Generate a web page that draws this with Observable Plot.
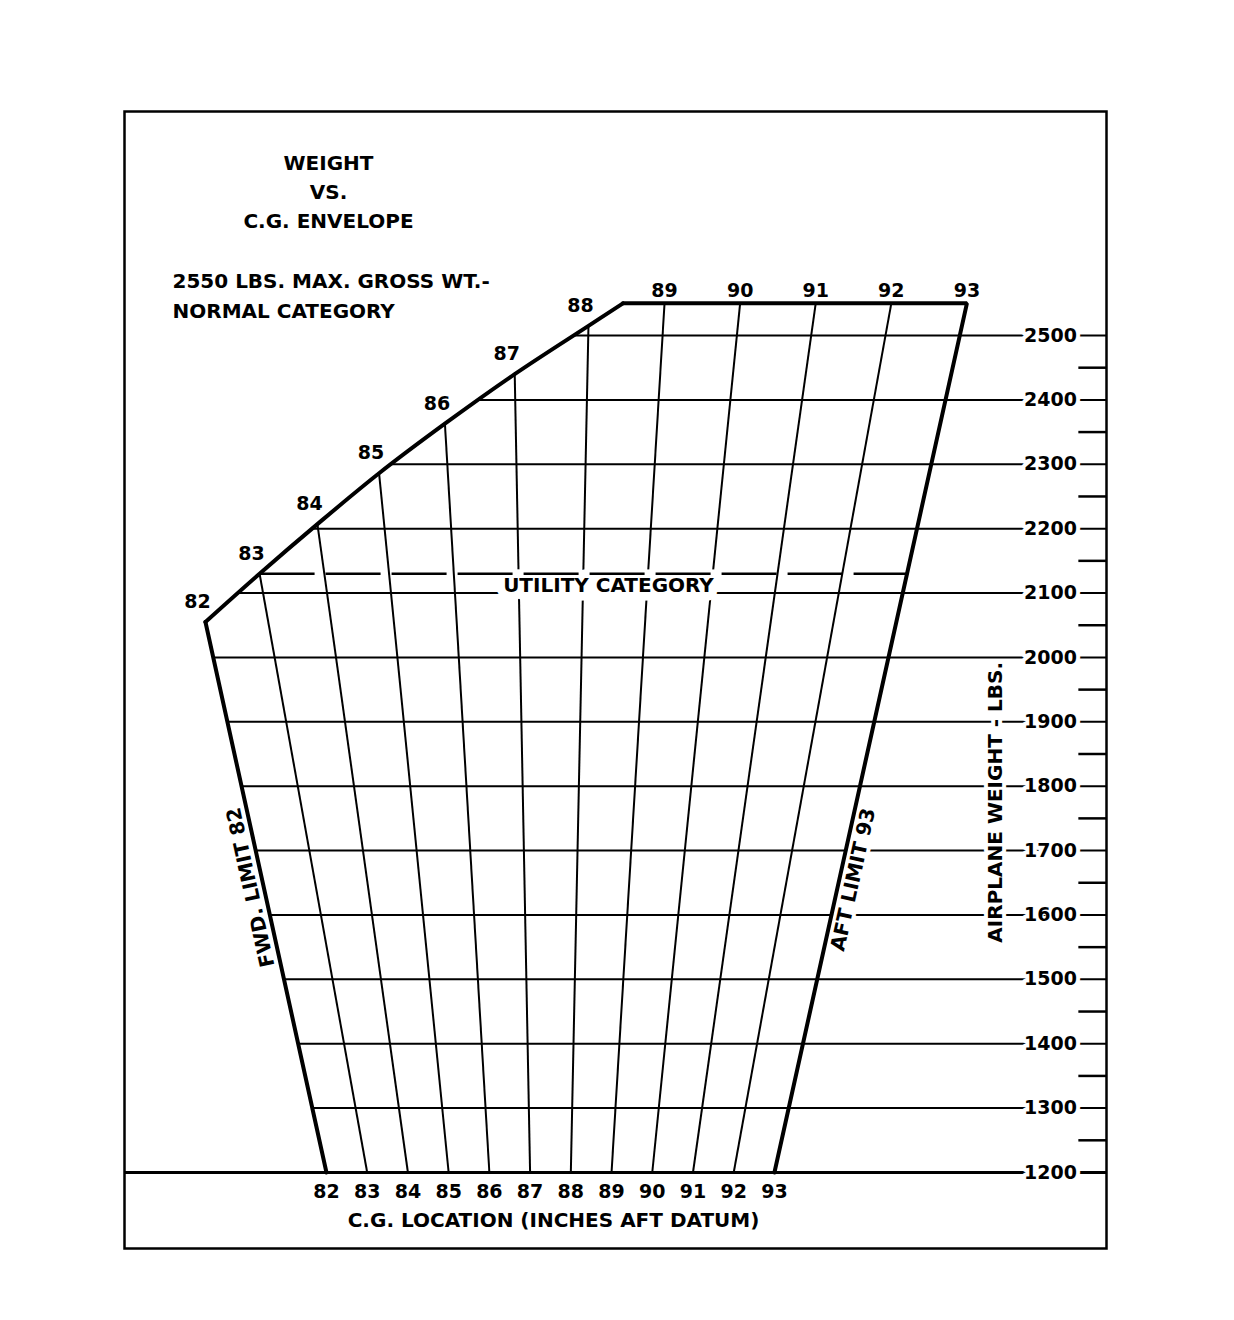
<!DOCTYPE html>
<html>
<head>
<meta charset="utf-8">
<script src="https://cdn.jsdelivr.net/npm/d3@7"></script>
<script src="https://cdn.jsdelivr.net/npm/@observablehq/plot@0.6"></script>
<style>
  html, body { margin: 0; padding: 0; background: #fff; overflow: hidden; }
  #chart { position: absolute; left: 0; top: 0; }
</style>
</head>
<body>
<div id="chart"></div>
<script>
// ---------------- data ----------------
const cgValues = [82, 83, 84, 85, 86, 87, 88, 89, 90, 91, 92, 93];       // C.G. lines (inches aft datum)
const weightTicks = [1200, 1300, 1400, 1500, 1600, 1700, 1800, 1900, 2000, 2100, 2200, 2300, 2400, 2500];
const minorTicks = [1250, 1350, 1450, 1550, 1650, 1750, 1850, 1950, 2050, 2150, 2250, 2350, 2450];
// forward limit curve (C.G. vs weight) above 2050 lbs
const fwdLimitCG = [82, 83, 84, 85, 86, 87, 88, 88.45];
const fwdLimitWt = [2055, 2130, 2207, 2286, 2363, 2440, 2515, 2550];
const fwdLimitLow = 82;     // straight forward limit
const aftLimit = 93;        // aft limit
const minWeight = 1200;
const maxWeight = 2550;     // max gross weight
const utilityWeight = 2130; // utility category max weight

const titleLines = ["WEIGHT", "VS.", "C.G. ENVELOPE"];
const subtitleLines = ["2550 LBS. MAX. GROSS WT.-", "NORMAL CATEGORY"];
const xLabel = "C.G. LOCATION (INCHES AFT DATUM)";
const yLabel = "AIRPLANE WEIGHT - LBS.";
const fwdLabel = "FWD. LIMIT 82";
const aftLabel = "AFT LIMIT 93";
const utilityLabel = "UTILITY CATEGORY";

// ---------------- chart geometry ----------------
// The C.G. lines of this chart fan out from a common point: the horizontal
// coordinate is a moment-like product (C.G. - ref) x (weight - ref).
const CG_REF = 87.48, WT_REF = -376.7;
const M = (cg, w) => (cg - CG_REF) * (w - WT_REF) / 1000;
const X_DOMAIN = [-16.46, 21.56];
const M_TICK = 20.47;

function fwdCGAt(w) {
  if (w <= fwdLimitWt[0]) return fwdLimitLow;
  for (let i = 1; i < fwdLimitWt.length; i++) {
    if (w <= fwdLimitWt[i]) {
      const t = (w - fwdLimitWt[i - 1]) / (fwdLimitWt[i] - fwdLimitWt[i - 1]);
      return fwdLimitCG[i - 1] + t * (fwdLimitCG[i] - fwdLimitCG[i - 1]);
    }
  }
  return fwdLimitCG[fwdLimitCG.length - 1];
}

const gridRows = weightTicks.filter(w => w > minWeight)
  .map(w => ({x1: M(fwdCGAt(w), w), x2: X_DOMAIN[1], w}));
const baseRow = [{x1: X_DOMAIN[0], x2: X_DOMAIN[1], w: minWeight}];
const cgLineRows = cgValues.filter(c => c > fwdLimitLow && c < aftLimit).map(c => {
  const i = fwdLimitCG.indexOf(c);
  const top = i >= 0 ? fwdLimitWt[i] : maxWeight;
  return {x1: M(c, minWeight), y1: minWeight, x2: M(c, top), y2: top};
});
const minorRows = minorTicks.map(w => ({x1: M_TICK, x2: X_DOMAIN[1], w}));

const fwdStraight = [{cg: fwdLimitLow, w: minWeight}, {cg: fwdLimitLow, w: fwdLimitWt[0]}];
const fwdCurve = fwdLimitCG.map((c, i) => ({cg: c, w: fwdLimitWt[i]}));
const topAft = [{cg: fwdLimitCG[fwdLimitCG.length - 1], w: maxWeight}, {cg: aftLimit, w: maxWeight}, {cg: aftLimit, w: minWeight}];
const utilityRow = [{x1: M(fwdCGAt(utilityWeight), utilityWeight), x2: M(aftLimit, utilityWeight), w: utilityWeight}];

const curveLabels = fwdCurve.filter(d => Number.isInteger(d.cg));
const topLabels = cgValues.filter(c => c > 88).map(c => ({cg: c, w: maxWeight}));
const bottomLabels = cgValues.map(c => ({cg: c, w: minWeight}));

const FONT = "DejaVu Sans";
const bold = {fontFamily: FONT, fontWeight: "bold", fill: "black", lineAnchor: "middle"};
const halo = {stroke: "white", strokeWidth: 8, paintOrder: "stroke", strokeLinejoin: "round"};

const chart = Plot.plot({
  width: 1234,
  height: 1320,
  marginLeft: 124, marginRight: 128, marginTop: 111, marginBottom: 72,
  x: {type: "linear", domain: X_DOMAIN, range: [124, 1106], axis: null},
  y: {type: "linear", domain: [1200, 2500], range: [1172, 335], axis: null},
  marks: [
    // weight grid lines
    Plot.link(gridRows, {x1: "x1", x2: "x2", y1: "w", y2: "w", stroke: "black", strokeWidth: 2}),
    Plot.link(baseRow, {x1: "x1", x2: "x2", y1: "w", y2: "w", stroke: "black", strokeWidth: 3}),
    // C.G. lines
    Plot.link(cgLineRows, {x1: "x1", y1: "y1", x2: "x2", y2: "y2", stroke: "black", strokeWidth: 2}),
    // minor ticks on right edge
    Plot.link(minorRows, {x1: "x1", x2: "x2", y1: "w", y2: "w", stroke: "black", strokeWidth: 2.5}),
    // weight labels
    Plot.text(weightTicks, {y: d => d, text: d => String(d), frameAnchor: "right", dx: -56, textAnchor: "middle",
      fontSize: 19, ...bold, ...halo}),
    // axis title
    Plot.text([yLabel], {y: () => 1775, text: d => d, frameAnchor: "right", dx: -111, rotate: -90,
      textAnchor: "middle", fontSize: 20, ...bold, ...halo}),
    // utility category label
    Plot.text([utilityLabel], {x: () => M(88.4, 2100), y: () => 2100, text: d => d, dy: -7,
      textAnchor: "middle", fontSize: 20, ...bold, ...halo, strokeWidth: 17}),
    // limit labels
    Plot.text([aftLabel], {x: () => M(aftLimit, 1655), y: () => 1655, text: d => d, dx: 14, rotate: -77.5,
      textAnchor: "middle", fontSize: 20, ...bold, ...halo}),
    Plot.text([fwdLabel], {x: () => M(fwdLimitLow, 1643), y: () => 1643, text: d => d, dx: -13, rotate: -102.4,
      textAnchor: "middle", fontSize: 20, ...bold, ...halo}),
    // utility dashed line
    Plot.link(utilityRow, {x1: "x1", x2: "x2", y1: "w", y2: "w", stroke: "black", strokeWidth: 2.5, strokeDasharray: "55,11"}),
    // envelope
    Plot.line(fwdStraight, {x: d => M(d.cg, d.w), y: "w", stroke: "black", strokeWidth: 4, strokeLinecap: "round"}),
    Plot.line(fwdCurve, {x: d => M(d.cg, d.w), y: "w", stroke: "black", strokeWidth: 4, curve: "catmull-rom", strokeLinecap: "round"}),
    Plot.line(topAft, {x: d => M(d.cg, d.w), y: "w", stroke: "black", strokeWidth: 4, strokeLinecap: "round", strokeLinejoin: "miter"}),
    // C.G. labels
    Plot.text(curveLabels, {x: d => M(d.cg, d.w), y: "w", text: d => String(d.cg), dx: -8, dy: -20,
      textAnchor: "middle", fontSize: 19, ...bold}),
    Plot.text(topLabels, {x: d => M(d.cg, d.w), y: "w", text: d => String(d.cg), dy: -12,
      textAnchor: "middle", fontSize: 19, ...bold}),
    Plot.text(bottomLabels, {x: d => M(d.cg, d.w), y: "w", text: d => String(d.cg), dy: 19,
      textAnchor: "middle", fontSize: 19, ...bold}),
    Plot.text([xLabel], {text: d => d, frameAnchor: "bottom", dx: -62, dy: -28, textAnchor: "middle", fontSize: 20, ...bold}),
    // titles
    ...titleLines.map((t, i) => Plot.text([t], {text: d => d, frameAnchor: "top-left", dx: 204, dy: 52 + 29 * i,
      textAnchor: "middle", fontSize: 20, ...bold})),
    ...subtitleLines.map((t, i) => Plot.text([t], {text: d => d, frameAnchor: "top-left", dx: 48, dy: 170 + 30 * i,
      textAnchor: "start", fontSize: 20, ...bold})),
    // outer frame
    Plot.frame({stroke: "black", strokeWidth: 2.5})
  ]
});
document.getElementById("chart").append(chart);
</script>
</body>
</html>
